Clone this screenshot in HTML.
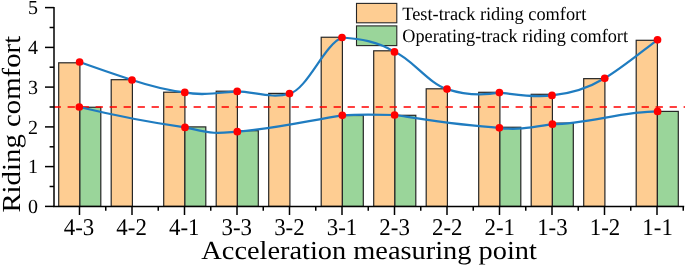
<!DOCTYPE html>
<html><head><meta charset="utf-8"><style>
html,body{margin:0;padding:0;background:#fff;}
svg{display:block;font-family:"Liberation Serif",serif;text-rendering:geometricPrecision;will-change:transform;}
</style></head><body>
<svg width="685" height="266" viewBox="0 0 685 266">
<rect width="685" height="266" fill="#fff"/>
<rect x="356.5" y="3.4" width="40.3" height="19.4" fill="#FECD92" stroke="#262626" stroke-width="1.1"/>
<rect x="356.5" y="25.9" width="40.3" height="19.7" fill="#9AD59A" stroke="#262626" stroke-width="1.1"/>
<text x="402.3" y="19.6" font-size="18.8" textLength="184" lengthAdjust="spacingAndGlyphs">Test-track riding comfort</text>
<text x="402.3" y="41.8" font-size="18.8" textLength="225.7" lengthAdjust="spacingAndGlyphs">Operating-track riding comfort</text>
<rect x="58.70" y="62.80" width="21.2" height="143.60" fill="#FECD92" stroke="#262626" stroke-width="1.2"/>
<rect x="111.20" y="79.70" width="21.2" height="126.70" fill="#FECD92" stroke="#262626" stroke-width="1.2"/>
<rect x="163.70" y="92.20" width="21.2" height="114.20" fill="#FECD92" stroke="#262626" stroke-width="1.2"/>
<rect x="216.20" y="91.20" width="21.2" height="115.20" fill="#FECD92" stroke="#262626" stroke-width="1.2"/>
<rect x="268.70" y="93.40" width="21.2" height="113.00" fill="#FECD92" stroke="#262626" stroke-width="1.2"/>
<rect x="321.20" y="37.25" width="21.2" height="169.15" fill="#FECD92" stroke="#262626" stroke-width="1.2"/>
<rect x="373.70" y="50.80" width="21.2" height="155.60" fill="#FECD92" stroke="#262626" stroke-width="1.2"/>
<rect x="426.20" y="88.80" width="21.2" height="117.60" fill="#FECD92" stroke="#262626" stroke-width="1.2"/>
<rect x="478.70" y="92.30" width="21.2" height="114.10" fill="#FECD92" stroke="#262626" stroke-width="1.2"/>
<rect x="531.20" y="94.30" width="21.2" height="112.10" fill="#FECD92" stroke="#262626" stroke-width="1.2"/>
<rect x="583.70" y="78.65" width="21.2" height="127.75" fill="#FECD92" stroke="#262626" stroke-width="1.2"/>
<rect x="636.20" y="40.30" width="21.2" height="166.10" fill="#FECD92" stroke="#262626" stroke-width="1.2"/>
<rect x="79.90" y="107.25" width="20.9" height="99.15" fill="#9AD59A" stroke="#262626" stroke-width="1.2"/>
<rect x="184.90" y="126.90" width="20.9" height="79.50" fill="#9AD59A" stroke="#262626" stroke-width="1.2"/>
<rect x="237.40" y="130.70" width="20.9" height="75.70" fill="#9AD59A" stroke="#262626" stroke-width="1.2"/>
<rect x="342.40" y="115.50" width="20.9" height="90.90" fill="#9AD59A" stroke="#262626" stroke-width="1.2"/>
<rect x="394.90" y="115.30" width="20.9" height="91.10" fill="#9AD59A" stroke="#262626" stroke-width="1.2"/>
<rect x="499.90" y="127.25" width="20.9" height="79.15" fill="#9AD59A" stroke="#262626" stroke-width="1.2"/>
<rect x="552.40" y="123.10" width="20.9" height="83.30" fill="#9AD59A" stroke="#262626" stroke-width="1.2"/>
<rect x="657.40" y="111.40" width="20.9" height="95.00" fill="#9AD59A" stroke="#262626" stroke-width="1.2"/>
<line x1="53.6" y1="107.05" x2="685" y2="107.05" stroke="#FF0000" stroke-width="1.5" stroke-dasharray="7.3 6.7"/>
<path d="M79.60,62.00 C97.07,68.29 114.53,74.24 132.00,80.00 C149.60,85.81 167.20,90.29 184.80,92.40 C202.27,96.07 219.73,92.62 237.20,91.40 C254.63,91.92 272.07,98.83 289.50,93.60 C307.00,89.75 324.50,44.15 342.00,37.50 C359.50,38.90 377.00,41.00 394.50,51.85 C412.00,59.20 429.50,84.20 447.00,89.10 C464.47,94.86 481.93,95.74 499.40,92.60 C516.93,94.53 534.47,97.94 552.00,95.40 C569.57,93.82 587.13,88.84 604.70,78.30 C622.30,67.74 639.90,53.00 657.50,39.80" fill="none" stroke="#1F7CC0" stroke-width="2.2"/>
<path d="M79.30,107.05 C114.53,115.51 149.77,122.47 185.00,127.40 C194.67,129.33 204.33,132.07 214.00,132.75 C221.77,133.29 229.53,132.19 237.30,131.65 C272.30,129.20 307.30,120.90 342.30,115.30 C359.73,114.08 377.17,114.48 394.60,115.00 C429.53,120.24 464.47,126.05 499.40,127.80 C517.07,130.63 534.73,126.85 552.40,124.20 C587.47,123.85 622.53,111.40 657.60,111.40" fill="none" stroke="#1F7CC0" stroke-width="2.2"/>
<circle cx="79.6" cy="62.0" r="3.85" fill="#FF0000"/>
<circle cx="132.0" cy="80.0" r="3.85" fill="#FF0000"/>
<circle cx="184.8" cy="92.4" r="3.85" fill="#FF0000"/>
<circle cx="237.2" cy="91.4" r="3.85" fill="#FF0000"/>
<circle cx="289.5" cy="93.6" r="3.85" fill="#FF0000"/>
<circle cx="342.0" cy="37.5" r="3.85" fill="#FF0000"/>
<circle cx="394.5" cy="51.9" r="3.85" fill="#FF0000"/>
<circle cx="447.0" cy="89.1" r="3.85" fill="#FF0000"/>
<circle cx="499.4" cy="92.6" r="3.85" fill="#FF0000"/>
<circle cx="552.0" cy="95.4" r="3.85" fill="#FF0000"/>
<circle cx="604.7" cy="78.3" r="3.85" fill="#FF0000"/>
<circle cx="657.5" cy="39.8" r="3.85" fill="#FF0000"/>
<circle cx="79.3" cy="107.0" r="3.85" fill="#FF0000"/>
<circle cx="185.0" cy="127.4" r="3.85" fill="#FF0000"/>
<circle cx="237.3" cy="131.7" r="3.85" fill="#FF0000"/>
<circle cx="342.3" cy="115.3" r="3.85" fill="#FF0000"/>
<circle cx="394.6" cy="115.0" r="3.85" fill="#FF0000"/>
<circle cx="499.4" cy="127.8" r="3.85" fill="#FF0000"/>
<circle cx="552.4" cy="124.2" r="3.85" fill="#FF0000"/>
<circle cx="657.6" cy="111.4" r="3.85" fill="#FF0000"/>
<g stroke="#000" stroke-width="1.5" fill="none">
<path d="M54,6.9 V207.1"/>
<path d="M53.3,206.4 H684.2"/>
<path d="M45,206.4 H54"/>
<path d="M45,166.6 H54"/>
<path d="M45,126.9 H54"/>
<path d="M45,87.1 H54"/>
<path d="M45,47.4 H54"/>
<path d="M45,7.6 H54"/>
<path d="M49.6,186.5 H54"/>
<path d="M49.6,146.8 H54"/>
<path d="M49.6,107.0 H54"/>
<path d="M49.6,67.2 H54"/>
<path d="M49.6,27.5 H54"/>
<path d="M79.5,206.4 V215"/>
<path d="M105.75,206.4 V210.8"/>
<path d="M132.0,206.4 V215"/>
<path d="M158.25,206.4 V210.8"/>
<path d="M184.5,206.4 V215"/>
<path d="M210.75,206.4 V210.8"/>
<path d="M237.0,206.4 V215"/>
<path d="M263.25,206.4 V210.8"/>
<path d="M289.5,206.4 V215"/>
<path d="M315.75,206.4 V210.8"/>
<path d="M342.0,206.4 V215"/>
<path d="M368.25,206.4 V210.8"/>
<path d="M394.5,206.4 V215"/>
<path d="M420.75,206.4 V210.8"/>
<path d="M447.0,206.4 V215"/>
<path d="M473.25,206.4 V210.8"/>
<path d="M499.5,206.4 V215"/>
<path d="M525.75,206.4 V210.8"/>
<path d="M552.0,206.4 V215"/>
<path d="M578.25,206.4 V210.8"/>
<path d="M604.5,206.4 V215"/>
<path d="M630.75,206.4 V210.8"/>
<path d="M657.0,206.4 V215"/>
<path d="M683.25,206.4 V210.8"/>
</g>
<text x="38" y="213.0" font-size="20" text-anchor="end">0</text>
<text x="38" y="173.2" font-size="20" text-anchor="end">1</text>
<text x="38" y="133.5" font-size="20" text-anchor="end">2</text>
<text x="38" y="93.7" font-size="20" text-anchor="end">3</text>
<text x="38" y="54.0" font-size="20" text-anchor="end">4</text>
<text x="38" y="14.2" font-size="20" text-anchor="end">5</text>
<text x="63.75" y="235.2" font-size="24" textLength="30.5" lengthAdjust="spacingAndGlyphs">4-3</text>
<text x="116.35" y="235.2" font-size="24" textLength="30.5" lengthAdjust="spacingAndGlyphs">4-2</text>
<text x="168.95" y="235.2" font-size="24" textLength="30.5" lengthAdjust="spacingAndGlyphs">4-1</text>
<text x="221.55" y="235.2" font-size="24" textLength="30.5" lengthAdjust="spacingAndGlyphs">3-3</text>
<text x="274.15" y="235.2" font-size="24" textLength="30.5" lengthAdjust="spacingAndGlyphs">3-2</text>
<text x="326.75" y="235.2" font-size="24" textLength="30.5" lengthAdjust="spacingAndGlyphs">3-1</text>
<text x="379.35" y="235.2" font-size="24" textLength="30.5" lengthAdjust="spacingAndGlyphs">2-3</text>
<text x="431.95" y="235.2" font-size="24" textLength="30.5" lengthAdjust="spacingAndGlyphs">2-2</text>
<text x="484.55" y="235.2" font-size="24" textLength="30.5" lengthAdjust="spacingAndGlyphs">2-1</text>
<text x="537.15" y="235.2" font-size="24" textLength="30.5" lengthAdjust="spacingAndGlyphs">1-3</text>
<text x="589.75" y="235.2" font-size="24" textLength="30.5" lengthAdjust="spacingAndGlyphs">1-2</text>
<text x="642.35" y="235.2" font-size="24" textLength="30.5" lengthAdjust="spacingAndGlyphs">1-1</text>
<text x="201.3" y="258.5" font-size="26" textLength="335.6" lengthAdjust="spacingAndGlyphs">Acceleration measuring point</text>
<text transform="translate(20.2,212.6) rotate(-90)" font-size="26" textLength="176.8" lengthAdjust="spacingAndGlyphs">Riding comfort</text>
</svg></body></html>
